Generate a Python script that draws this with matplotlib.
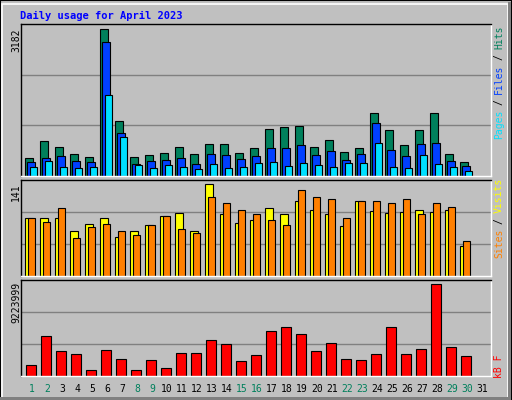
import matplotlib
matplotlib.use("Agg")
import matplotlib.pyplot as plt
from matplotlib.patches import Rectangle

days = list(range(1, 32))
hits = [383,752,622,470,412,3182,1186,412,448,492,622,470,687,687,492,600,1012,1056,1078,622,774,513,600,1360,991,665,991,1360,470,296,0]
files = [296,383,427,318,296,2900,926,253,318,340,383,253,470,448,362,427,600,600,665,448,535,340,470,1143,557,427,687,709,318,210,0]
pages = [188,318,188,166,188,1750,839,231,166,231,188,145,253,166,188,275,296,210,275,231,188,275,275,709,188,166,448,253,188,101,0]
visits = [90,89,90,70,80,90,61,69,78,93,97,70,141,95,81,87,104,95,116,101,95,77,116,100,97,98,101,98,101,46,0]
sites = [90,84,104,58,75,80,70,63,78,92,72,67,121,112,101,95,87,78,132,121,118,89,115,115,113,118,95,113,107,54,0]
kbytes = [1010000,3950000,2430000,2130000,510000,2530000,1620000,510000,1520000,710000,2230000,2230000,3550000,3140000,1420000,2030000,4460000,4870000,4160000,2430000,3240000,1620000,1520000,2130000,4870000,2130000,2640000,9223999,2840000,1930000,0]
weekend = [1,2,8,9,15,16,22,23,29,30]

W, H = 512, 400
bg = "#C0C0C0"
fig = plt.figure(figsize=(W/100, H/100), dpi=100, facecolor=bg)
mono = "DejaVu Sans Mono"

fig.patches.append(Rectangle((0, 0), 1, 1, transform=fig.transFigure, fill=False, ec="black", lw=1.5))
fig.patches.append(Rectangle((2/W, 2/H), 1-6/W, 1-6/H, transform=fig.transFigure, fill=False, ec="white", lw=1.2))
fig.patches.append(Rectangle((0, 0), 1-2/W, 3/H, transform=fig.transFigure, fc="#808080", ec="none"))
fig.patches.append(Rectangle((1-4/W, 0), 3/W, 1-2/H, transform=fig.transFigure, fc="#808080", ec="none"))

L, R = 20.7, 491
def mkax(top, bot):
    ax = fig.add_axes([L/W, 1-bot/H, (R-L)/W, (bot-top)/H])
    ax.set_facecolor(bg)
    ax.set_xlim(0, (R-L)/15)
    ax.set_xticks([]); ax.set_yticks([])
    for s in ax.spines.values():
        s.set_color("black"); s.set_linewidth(1)
    ax.spines["right"].set_color("white"); ax.spines["bottom"].set_color("white")
    return ax

n = len(days)
x0 = [d - 1 for d in days]
bw = 0.49

ax1 = mkax(24, 176)
ymax1 = max(hits) * 456 / 440
ax1.set_ylim(0, ymax1)
for f in (1/3, 2/3):
    ax1.axhline(ymax1*f, color="#808080", lw=1, zorder=0)
for d in range(n):
    if hits[d] > 0:
        ax1.bar(x0[d]+0.31, hits[d], bw, align="edge", color="#00805C", ec="black", lw=0.8)
        ax1.bar(x0[d]+0.45, files[d], bw, align="edge", color="#0040FF", ec="black", lw=0.8)
        ax1.bar(x0[d]+0.60, pages[d], bw, align="edge", color="#00E0FF", ec="black", lw=0.8)

ax2 = mkax(180, 276.3)
ymax2 = max(visits) * 289 / 276
ax2.set_ylim(0, ymax2)
for f in (1/3, 2/3):
    ax2.axhline(ymax2*f, color="#808080", lw=1, zorder=0)
for d in range(n):
    if visits[d] > 0:
        ax2.bar(x0[d]+0.31, visits[d], bw, align="edge", color="#FFFF00", ec="black", lw=0.8)
        ax2.bar(x0[d]+0.49, sites[d], bw, align="edge", color="#FF8000", ec="black", lw=0.8)

ax3 = mkax(280, 375.5)
ymax3 = max(kbytes) * 285 / 273
ax3.set_ylim(0, ymax3)
for f in (1/3, 2/3):
    ax3.axhline(ymax3*f, color="#808080", lw=1, zorder=0)
for d in range(n):
    if kbytes[d] > 0:
        ax3.bar(x0[d]+0.36, kbytes[d], 0.69, align="edge", color="#FF0000", ec="black", lw=0.8)

for d in days:
    ax3.text(d-1+0.75, -0.09, str(d), transform=ax3.get_xaxis_transform(), ha="center", va="top",
             family=mono, fontsize=7, color="#00805C" if d in weekend else "black")

def ptxt(x, y, s, **kw):
    fig.text(x/W, 1-y/H, s, family=mono, **kw)

ptxt(20, 16, "Daily usage for April 2023", fontsize=7.5, weight="bold", color="#0000FF", va="center")
ptxt(16, 29, str(max(hits)), fontsize=7, rotation=90, ha="center", va="top")
ptxt(16, 183, str(max(visits)), fontsize=7, rotation=90, ha="center", va="top")
ptxt(16, 282, str(max(kbytes)), fontsize=7, rotation=90, ha="center", va="top")

cw = 5.6
def vlabel(bottom, parts):
    y = bottom
    for i, (s, c) in enumerate(parts):
        if i > 0:
            ptxt(499, y - 1.5*cw, "/", fontsize=7, rotation=90, ha="center", va="center", color="black")
            y -= 3*cw
        ptxt(499, y - len(s)*cw/2, s, fontsize=7, rotation=90, ha="center", va="center", color=c)
        y -= len(s) * cw
vlabel(138, [("Pages", "#00E0FF"), ("Files", "#0040FF"), ("Hits", "#00805C")])
vlabel(257, [("Sites", "#FF8000"), ("Visits", "#FFFF00")])
vlabel(377, [("kB F", "#FF0000")])

fig.savefig("out.png", dpi=100, facecolor=bg)
